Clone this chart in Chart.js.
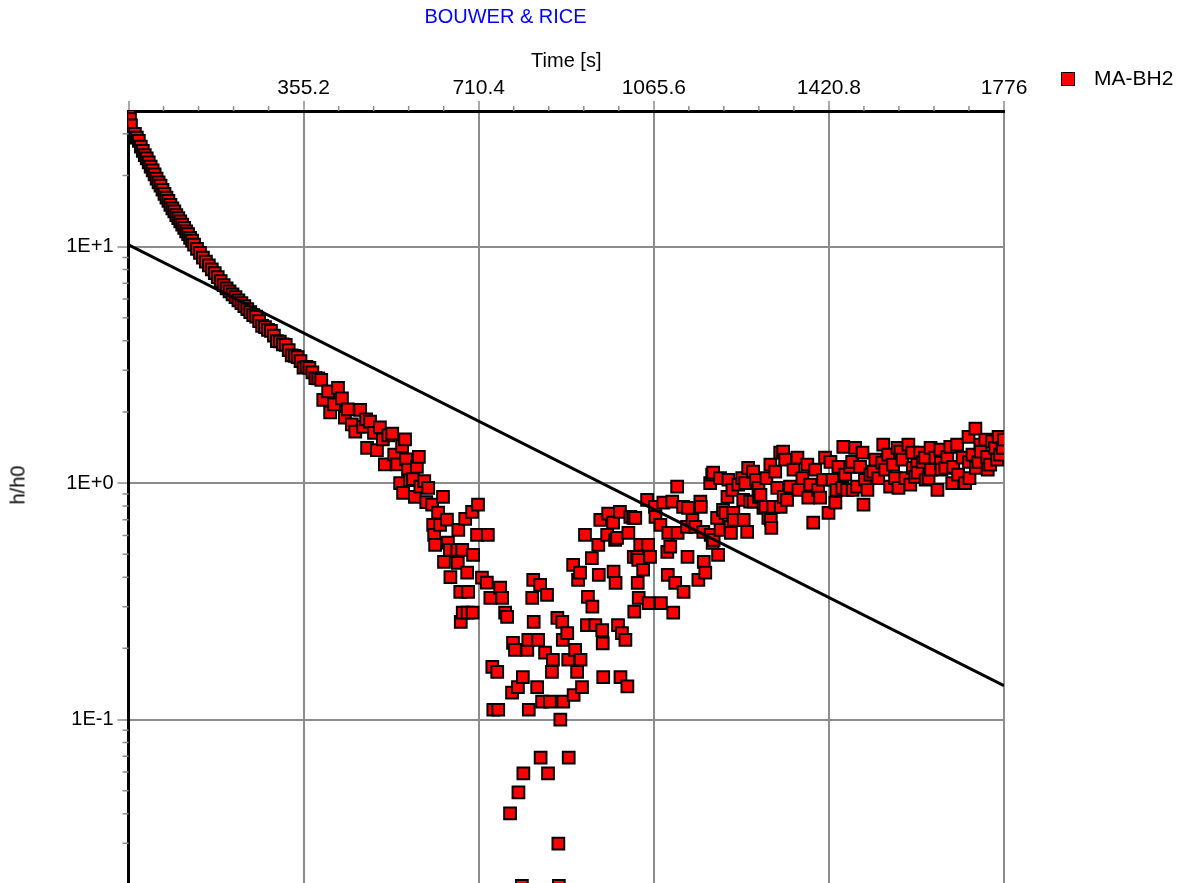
<!DOCTYPE html>
<html>
<head>
<meta charset="utf-8">
<title>BOUWER & RICE</title>
<script src="https://cdn.jsdelivr.net/npm/chart.js@4.4.0/dist/chart.umd.min.js"></script>
<style>
  html, body { margin: 0; padding: 0; background: #fff; overflow: hidden; }
  #wrap { position: relative; width: 1191px; height: 972px; }
  #chart { display: block; }
  .legend-box { position: absolute; left: 1061px; top: 72px; width: 14px; height: 14px;
    box-sizing: border-box; background: #ff0000; border: 1.5px solid #000; }
  .legend-text { position: absolute; left: 1094px; top: 66px; line-height: 24px;
    font: 21px "Liberation Sans", Arial, sans-serif; color: #000; }
  .y-title { position: absolute; left: 18px; top: 485px; transform: translate(-50%, -50%) rotate(-90deg);
    font: 20px "Liberation Sans", Arial, sans-serif; color: #000; white-space: nowrap; }
</style>
</head>
<body>
<div id="wrap">
  <canvas id="chart" width="1191" height="972"></canvas>
  <div class="legend-box"></div>
  <div class="legend-text">MA-BH2</div>
  <div class="y-title">h/h0</div>
</div>
<script>
// time [s] / h/h0 pairs
const decayPoints = [
  [1,36.4],[3,34.6],[5,32.6],[13,30.0],[17,28.9],[21,28.0],[25,26.5],[29,25.4],[33,24.4],[37,23.6],
  [41,22.7],[45,21.8],[49,21.0],[53,20.2],[57,19.4],[61,18.7],[65,18.1],[69,17.4],[73,16.7],[77,16.1],
  [81,15.6],[85,15.0],[89,14.5],[93,14.1],[97,13.6],[101,13.2],[105,12.8],[109,12.4],[113,12.0],[117,11.6],
  [121,11.3],[125,10.9],[129,10.6],[133,10.2],[139,9.78],[145,9.41],[151,8.99],[157,8.64],[163,8.34],[169,8.02],
  [175,7.72],[181,7.43],[187,7.15],[193,6.88],[199,6.66],[205,6.47],[211,6.28],[217,6.11],[223,5.93],[229,5.77],
  [235,5.60],[241,5.44],[247,5.28],[253,5.13],[259,5.06],[265,4.84],[271,4.62],[277,4.57],[283,4.45],[289,4.40],
  [295,4.20],[301,3.98],[307,3.97],[313,3.86],[319,3.84],[325,3.65],[331,3.47],[337,3.45],[343,3.41],[349,3.28],
  [355,3.08],[361,3.10],[367,3.07],[373,2.94],[379,2.78],[385,2.77],[391,2.73]
];

const troughPoints = [
  [395,2.25],[405,2.44],[409,1.99],[417,2.15],[425,2.53],[433,2.28],[439,1.89],[445,2.05],[453,1.77],[460,1.65],
  [470,2.04],[476,1.73],[482,1.86],[484,1.41],[490,1.82],[498,1.63],[504,1.38],[510,1.72],[516,1.53],[520,1.20],
  [527,1.59],[535,1.62],[539,1.32],[545,1.20],[551,1.00],[555,1.43],[557,0.91],[561,1.53],[563,1.26],[567,1.14],
  [571,1.03],[577,1.04],[581,0.875],[585,1.17],[589,1.29],[592,0.965],[600,1.02],[604,0.83],[608,0.955],[616,0.81],
  [618,0.666],[620,0.604],[622,0.548],[628,0.75],[632,0.666],[638,0.875],[640,0.464],[646,0.70],[648,0.56],[652,0.522],
  [653,0.40],[667,0.522],[668,0.46],[669,0.634],[673,0.347],[674,0.259],[677,0.522],[678,0.283],[683,0.706],[687,0.418],
  [688,0.283],[689,0.347],[697,0.756],[698,0.283],[699,0.497],[707,0.604],[709,0.81],[717,0.398],[727,0.379],[729,0.604],
  [734,0.327],[738,0.167],[740,0.110],[748,0.159],[750,0.110],[754,0.361],[758,0.327],[764,0.283],[768,0.272],[774,0.0401],
  [778,0.130],[780,0.211],[784,0.197],[790,0.137],[791,0.0492],[798,0.0198],[800,0.151],[801,0.0592],[809,0.197],[811,0.217],
  [812,0.110],[819,0.327],[821,0.39],[822,0.259],[829,0.137],[831,0.217],[835,0.371],[836,0.069],[839,0.119],[845,0.192],
  [849,0.337],[851,0.0592],[855,0.119],[859,0.159],[861,0.179],[870,0.269],[872,0.0299],[873,0.0198],[876,0.100],[880,0.259],
  [881,0.217],[882,0.119],[890,0.232],[892,0.179],[893,0.069],[902,0.451],[903,0.127],[906,0.197],[910,0.159],[912,0.390],
  [916,0.418],[917,0.179],[920,0.137],[926,0.604],[930,0.251],[932,0.33],[940,0.482],[941,0.30],[947,0.251],[953,0.548],
  [954,0.409],[957,0.699],[961,0.239],[962,0.21],[963,0.151],[971,0.604],[973,0.743],[983,0.68],[984,0.422],[987,0.575],
  [988,0.378],[991,0.586],[993,0.251],[997,0.756],[998,0.151],[1001,0.232],[1008,0.217],[1012,0.138],[1014,0.616],[1018,0.72],
  [1024,0.713],[1025,0.487],[1026,0.286],[1028,0.713],[1032,0.487],[1033,0.378],[1034,0.473],[1035,0.327],[1038,0.548],[1044,0.430],
  [1052,0.85],[1054,0.548],[1055,0.311],[1058,0.487],[1068,0.794],[1069,0.72],[1079,0.666],[1080,0.311],[1085,0.826],[1093,0.512],
  [1094,0.409],[1095,0.616],[1099,0.538],[1103,0.834],[1105,0.283],[1109,0.378],[1113,0.965],[1114,0.616],[1125,0.794],[1126,0.347],
  [1133,0.653],[1134,0.487],[1135,0.786],[1144,0.699],[1150,0.653],[1156,0.39],[1160,0.834],[1161,0.794],[1166,0.622],[1167,0.464],
  [1170,0.418]
];

const recoveryPoints = [
  [1180,1.00],[1181,0.604],[1184,1.085],[1185,0.559],[1186,1.107],[1187,0.575],[1194,0.713],[1196,0.497],[1200,1.05],[1201,0.634],
  [1206,0.771],[1211,0.748],[1215,0.875],[1217,1.033],[1221,0.653],[1222,0.616],[1225,0.937],[1227,0.748],[1228,0.699],[1237,0.984],
  [1245,1.05],[1247,0.85],[1248,0.699],[1251,1.00],[1255,0.622],[1257,1.16],[1261,0.834],[1267,1.118],[1268,0.834],[1273,1.033],
  [1278,0.955],[1279,0.875],[1282,0.892],[1288,0.786],[1292,0.794],[1294,1.05],[1298,0.713],[1302,1.196],[1303,0.699],[1304,0.646],
  [1308,0.794],[1312,1.118],[1316,0.955],[1322,1.345],[1323,0.794],[1328,1.358],[1329,0.875],[1332,1.256],[1336,0.85],[1342,0.965],
  [1349,1.139],[1357,1.28],[1359,0.937],[1367,1.05],[1377,1.196],[1379,0.867],[1383,0.984],[1389,0.68],[1393,1.139],[1399,0.937],
  [1403,0.867],[1409,1.033],[1413,1.28],[1420,0.748],[1424,1.23],[1428,1.033],[1434,0.826],[1436,0.937],[1440,1.17],[1448,0.955],
  [1450,1.424],[1454,1.085],[1458,0.937],[1464,1.17],[1468,1.23],[1469,0.937],[1474,1.41],[1478,0.965],[1484,1.17],[1489,1.345],
  [1491,0.81],[1494,1.033],[1499,0.937],[1505,1.085],[1511,1.118],[1515,1.256],[1521,1.05],[1529,1.22],[1531,1.453],[1535,1.139],
  [1541,1.318],[1545,0.965],[1551,1.196],[1555,1.05],[1560,1.41],[1562,0.955],[1566,1.358],[1570,1.256],[1576,1.05],[1582,1.453],
  [1586,0.984],[1590,1.345],[1591,1.16],[1596,1.063],[1600,1.196],[1601,1.107],[1606,1.345],[1611,1.23],[1616,1.28],[1617,1.033],
  [1623,1.05],[1627,1.41],[1628,1.139],[1637,1.28],[1641,0.937],[1647,1.384],[1648,1.22],[1649,1.139],[1657,1.16],[1661,1.29],
  [1667,1.424],[1671,1.00],[1673,1.17],[1681,1.453],[1683,1.085],[1692,1.28],[1697,1.00],[1704,1.57],[1705,1.23],[1706,1.05],
  [1712,1.318],[1718,1.70],[1719,1.16],[1724,1.23],[1728,1.453],[1729,1.358],[1738,1.526],[1742,1.29],[1743,1.139],[1748,1.196],
  [1752,1.50],[1758,1.41],[1762,1.256],[1765,1.57],[1768,1.318],[1773,1.41],[1776,1.526]
];

// straight-line Bouwer & Rice fit
const fitLine = [[0, 10.17], [1776, 0.139]];

const timeTicks = [0, 355.2, 710.4, 1065.6, 1420.8, 1776];
const ratioTicks = [0.01, 0.1, 1, 10];
const timeMax = 1776;
const ratioMax = 37.46;

const FONT = "'Liberation Sans', Arial, sans-serif";
Chart.defaults.font.family = FONT;
Chart.defaults.font.size = 20;
Chart.defaults.color = '#000';

const GRID = '#8c8c8c';

// small minor tick marks outside the plot area
const minorTicks = {
  id: 'minorTicks',
  afterDraw(chart) {
    const { ctx, chartArea, scales: { x, y } } = chart;
    const step = timeTicks[1] / 5;
    ctx.save();
    ctx.strokeStyle = GRID;
    ctx.lineWidth = 1.5;
    ctx.beginPath();
    for (let k = 1; k * step < timeMax; k++) {
      if (k % 5 === 0) continue;
      const px = x.getPixelForValue(k * step);
      ctx.moveTo(px, chartArea.top - 5);
      ctx.lineTo(px, chartArea.top);
    }
    ratioTicks.forEach(d => {
      for (let m = 2; m <= 9; m++) {
        if (d * m > ratioMax) continue;
        const py = y.getPixelForValue(d * m);
        ctx.moveTo(chartArea.left - 6, py);
        ctx.lineTo(chartArea.left, py);
      }
    });
    ctx.stroke();
    ctx.restore();
  }
};

const toXY = ([t, v]) => ({ x: t, y: v });

new Chart(document.getElementById('chart'), {
  type: 'scatter',
  data: {
    datasets: [
      {
        type: 'line',
        label: 'fit',
        data: fitLine.map(toXY),
        borderColor: '#000',
        borderWidth: 3,
        pointRadius: 0,
        fill: false,
        order: 0
      },
      {
        label: 'MA-BH2',
        data: [...decayPoints, ...troughPoints, ...recoveryPoints].map(toXY),
        pointStyle: 'rect',
        pointRadius: 8.3,
        backgroundColor: '#ff0000',
        borderColor: '#000',
        borderWidth: 2,
        order: 1
      }
    ]
  },
  options: {
    responsive: false,
    animation: false,
    events: [],
    layout: { padding: { left: 7, right: 187, top: 0, bottom: 0 } },
    plugins: {
      legend: { display: false },
      tooltip: { enabled: false },
      title: {
        display: true,
        text: 'BOUWER & RICE',
        color: '#0000ff',
        font: { size: 20, weight: 'normal' },
        padding: { top: 5, bottom: 0 }
      }
    },
    scales: {
      x: {
        type: 'linear',
        position: 'top',
        min: 0,
        max: timeMax,
        afterBuildTicks: s => { s.ticks = timeTicks.map(v => ({ value: v })); },
        afterFit: s => { s.height = 82; },
        ticks: {
          padding: 0,
          maxRotation: 0,
          autoSkip: false,
          font: { size: 21 },
          callback: v => v === 0 ? '' : String(v)
        },
        grid: { color: GRID, lineWidth: 2, tickColor: GRID, tickLength: 10, tickWidth: 1.5 },
        border: { color: '#000', width: 3 },
        title: { display: true, text: 'Time [s]', padding: { top: 20, bottom: 0 } }
      },
      y: {
        type: 'logarithmic',
        min: 0.01,
        max: ratioMax,
        afterBuildTicks: s => { s.ticks = ratioTicks.map(v => ({ value: v })); },
        afterFit: s => { s.width = 121.5; },
        ticks: {
          padding: 4,
          autoSkip: false,
          callback: v => {
            const e = Math.round(Math.log10(v));
            return '1E' + (e >= 0 ? '+' : '') + e;
          }
        },
        grid: { color: GRID, lineWidth: 2, tickColor: GRID, tickLength: 11, tickWidth: 1.5 },
        border: { color: '#000', width: 3 },
        title: { display: false }
      }
    }
  },
  plugins: [minorTicks]
});
</script>
</body>
</html>
